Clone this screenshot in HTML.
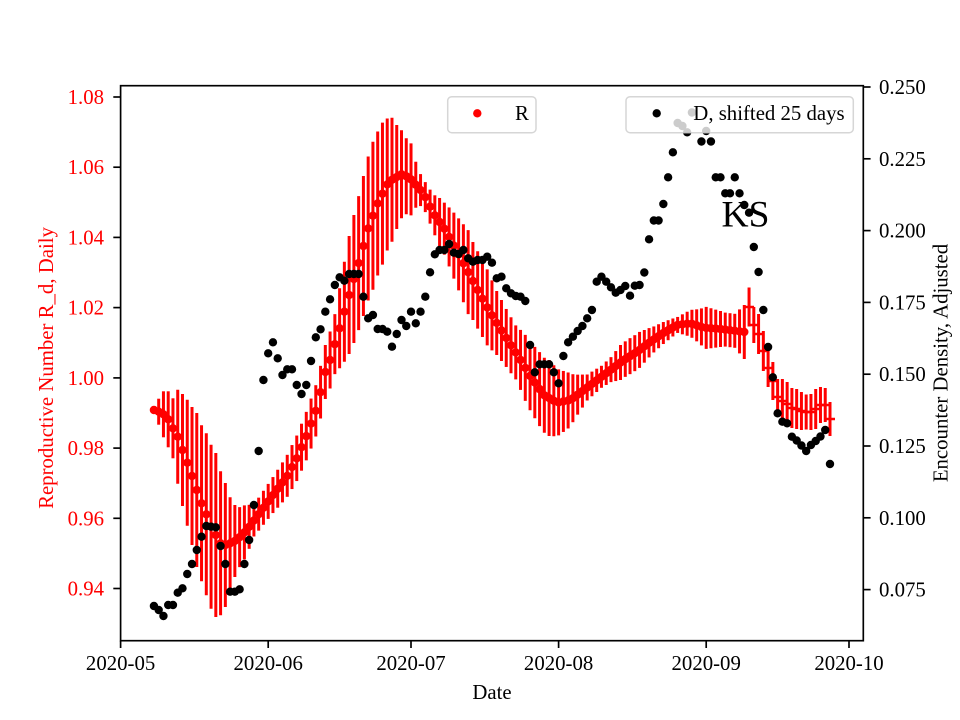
<!DOCTYPE html>
<html>
<head>
<meta charset="utf-8">
<style>
html,body{margin:0;padding:0;background:#fff;}
svg{display:block;}
</style>
</head>
<body>
<svg id="chart" width="960" height="720" viewBox="0 0 960 720" xmlns="http://www.w3.org/2000/svg" font-family="'Liberation Serif', 'DejaVu Serif', serif">
<rect x="0" y="0" width="960" height="720" fill="#ffffff"/>
<g id="red"></g>
<g id="blk"></g>

<!-- Legend R -->
<rect x="447.7" y="96.7" width="88.3" height="36" rx="4" ry="4" fill="#ffffff" fill-opacity="0.8" stroke="#cccccc" stroke-opacity="0.8" stroke-width="1.5"/>
<circle cx="477.3" cy="113.3" r="4.2" fill="#ff0000"/>
<text x="515" y="120" font-size="20.8" fill="#000">R</text>

<!-- Legend D -->
<rect x="626" y="96.7" width="227.3" height="36" rx="4" ry="4" fill="#ffffff" fill-opacity="0.8" stroke="#cccccc" stroke-opacity="0.8" stroke-width="1.5"/>
<circle cx="656.7" cy="113.3" r="4.2" fill="#000000"/>
<text x="693.3" y="120" font-size="20.8" fill="#000">D, shifted 25 days</text>

<!-- KS label -->
<text x="721.5" y="226.7" font-size="37.5" fill="#000">KS</text>

<!-- Spines -->
<g stroke="#000" stroke-width="1.67" fill="none">
  <rect x="120.6" y="85.7" width="742.7" height="555"/>
</g>

<!-- Bottom ticks -->
<g stroke="#000" stroke-width="1.67">
  <line x1="120.6" y1="640.7" x2="120.6" y2="648"/>
  <line x1="268.2" y1="640.7" x2="268.2" y2="648"/>
  <line x1="411" y1="640.7" x2="411" y2="648"/>
  <line x1="558.6" y1="640.7" x2="558.6" y2="648"/>
  <line x1="706.2" y1="640.7" x2="706.2" y2="648"/>
  <line x1="849" y1="640.7" x2="849" y2="648"/>
</g>
<g font-size="20.8" fill="#000" text-anchor="middle">
  <text x="120.6" y="670">2020-05</text>
  <text x="268.2" y="670">2020-06</text>
  <text x="411" y="670">2020-07</text>
  <text x="558.6" y="670">2020-08</text>
  <text x="706.2" y="670">2020-09</text>
  <text x="849" y="670">2020-10</text>
  <text x="492" y="699">Date</text>
</g>

<!-- Left ticks -->
<g stroke="#000" stroke-width="1.67">
  <line x1="113.3" y1="97" x2="120.6" y2="97"/>
  <line x1="113.3" y1="167.2" x2="120.6" y2="167.2"/>
  <line x1="113.3" y1="237.4" x2="120.6" y2="237.4"/>
  <line x1="113.3" y1="307.6" x2="120.6" y2="307.6"/>
  <line x1="113.3" y1="377.9" x2="120.6" y2="377.9"/>
  <line x1="113.3" y1="448.1" x2="120.6" y2="448.1"/>
  <line x1="113.3" y1="518.3" x2="120.6" y2="518.3"/>
  <line x1="113.3" y1="588.5" x2="120.6" y2="588.5"/>
</g>
<g font-size="20.8" fill="#ff0000" text-anchor="end">
  <text x="104" y="104">1.08</text>
  <text x="104" y="174.2">1.06</text>
  <text x="104" y="244.4">1.04</text>
  <text x="104" y="314.6">1.02</text>
  <text x="104" y="384.9">1.00</text>
  <text x="104" y="455.1">0.98</text>
  <text x="104" y="525.3">0.96</text>
  <text x="104" y="595.5">0.94</text>
</g>
<text transform="translate(53,368) rotate(-90)" text-anchor="middle" font-size="20.8" fill="#ff0000">Reproductive Number R_d, Daily</text>

<!-- Right ticks -->
<g stroke="#000" stroke-width="1.67">
  <line x1="863.3" y1="87" x2="870.6" y2="87"/>
  <line x1="863.3" y1="158.8" x2="870.6" y2="158.8"/>
  <line x1="863.3" y1="230.6" x2="870.6" y2="230.6"/>
  <line x1="863.3" y1="302.4" x2="870.6" y2="302.4"/>
  <line x1="863.3" y1="374.2" x2="870.6" y2="374.2"/>
  <line x1="863.3" y1="446" x2="870.6" y2="446"/>
  <line x1="863.3" y1="517.8" x2="870.6" y2="517.8"/>
  <line x1="863.3" y1="589.6" x2="870.6" y2="589.6"/>
</g>
<g font-size="20.8" fill="#000" text-anchor="start">
  <text x="879" y="94">0.250</text>
  <text x="879" y="165.8">0.225</text>
  <text x="879" y="237.6">0.200</text>
  <text x="879" y="309.4">0.175</text>
  <text x="879" y="381.2">0.150</text>
  <text x="879" y="453">0.125</text>
  <text x="879" y="524.8">0.100</text>
  <text x="879" y="596.6">0.075</text>
</g>
<text transform="translate(947.5,363) rotate(-90)" text-anchor="middle" font-size="20.8" fill="#000">Encounter Density, Adjusted</text>
</svg>

<script>
(function(){
  function X(d){return 120.6+4.761*d;}
  function interp(arr,d){
    if(d<=arr[0][0]) return arr[0][1];
    for(var i=1;i<arr.length;i++){
      if(d<=arr[i][0]){
        var a=arr[i-1],b=arr[i];
        var t=(d-a[0])/(b[0]-a[0]);
        return a[1]+t*(b[1]-a[1]);
      }
    }
    return arr[arr.length-1][1];
  }
  var rc=[[7,410],[8,411.7],[9,414.3],[10,419.3],[11,428.3],[12,436.7],[13,450],[14,462.7],[15,476],[16,490],[17,503.3],[18,514.3],[19,526.7],[20,535],[21,543.3],[22,545],[23,543.3],[24.4,540],[26.5,530],[28.6,516.7],[30.7,503.3],[32.8,490],[34.9,476.7],[37,458.3],[39.1,435],[41.2,408.3],[43,372],[44,360],[46.1,326.7],[48.2,291.7],[50.3,258.3],[52.1,226.7],[54.2,201],[56.3,181.7],[59.1,174],[60.8,178.3],[63.6,193.3],[65.7,213.3],[68.2,230],[70.7,251.7],[73.1,273],[75.2,291.7],[77.3,310],[79.4,326],[81.5,341.7],[83.6,356.7],[86.1,376.7],[88.9,395],[91.7,402.7],[94.5,400],[97.3,390],[100.1,380],[102.9,370],[105.7,360],[108.5,351.7],[111.3,341.7],[114.1,332.7],[116.9,325],[119.7,323.3],[122.5,327.7],[126,329],[131,332],[132,307],[133,325],[134,334],[135,351],[136,368],[137,381],[138,397],[139,401],[140,404],[141,408],[142,409],[143,411],[144,412],[145,412],[146,409],[147,405],[148,405],[149,419]];
  var rh=[[7,0],[8,13],[9,23],[10,28],[11,30],[12,47],[13,56],[14,63],[15,69],[16,77],[17,78],[18,81],[19,82],[20,82],[21,72],[22,62],[23,46],[24,36],[25,30],[26,27],[27,22],[28,16],[32,18],[36,22],[40,25],[43,27],[45,30],[46,40],[47,50],[48,59],[49,64],[50,67],[51,70],[52,72],[53,74],[54,72],[55,71],[56,66],[57,62],[58,52],[59,44],[60,38],[61,36],[62,23],[63,16],[64,15],[65,17],[66,20],[67,24],[68,26],[70,33],[73,42],[74,39],[77,38],[79,32],[81,29],[83,27],[85,33],[88,37],[90,38],[92,33],[94,28],[96,20],[98,13],[101,11],[103,12.5],[105,17.5],[107,18],[109,18],[112,13],[117,8],[119,12],[121,16],[123,21],[125,19],[127,17],[129,17],[131,27],[132,19.5],[133,18],[134,20],[135,20],[136,19],[137,19],[138,18],[139,22],[140,22],[141,20],[142,20],[143,19],[144,17.5],[145,18],[146,20],[147,18],[148,17],[149,17]];
  var by={7:606,8:610,9:616,10:605,11:605,12:592.7,13:588.3,14:574,15:564,16:550,17:536.7,18:526,19:526.7,20:527.3,21:546,22:564,23:591.7,24:591.7,25:589.3,26:564,27:540,28:505,29:451,30:380,31:353.3,32:342.3,33:358.3,34:375,35:369.3,36:369.3,37:385,38:394,39:385,40:361,41:337.3,42:329.3,43:311.7,44:299.3,45:285,46:277.3,47:280.7,48:274,49:274,50:274,51:296.7,52:318.3,53:315,54:329,55:329,56:331.7,57:346.7,58:334,59:320,60:326,61:311.7,62:323.3,63:311.7,64:296.7,65:272.3,66:254.3,67:250,68:250,69:244,70:252.7,71:254,72:250,73:258.3,74:261.7,75:260,76:260,77:256.7,78:262.7,79:278.3,80:276.7,81:288.3,82:293.3,83:296,84:296.7,85:301,86:345,87:372.3,88:364.3,89:364.3,90:364.3,91:372.3,92:383.3,93:356,94:342.3,95:336.7,96:331,97:326,98:318.3,99:310,100:281.7,101:276.7,102:281.7,103:287.3,104:292.7,105:290,106:286,107:295.7,108:285.7,109:285,110:272.5,111:239.3,112:220.5,113:220.5,114:204,115:177.3,116:152.3,117:123,118:126,119:132.3,120:112.5,122:141.5,123:131,124:141.5,125:177.3,126:177.3,127:193.3,128:193.3,129:177.3,130:193.3,131:205,132:212.7,133:247,134:272,135:310,136:347,137:377.3,138:413.3,139:421.7,140:423.3,141:436.7,142:440.5,143:445.5,144:451,145:445,146:441,147:436.5,148:430,149:464};

  var bars='', marks='';
  for(var d=7; d<=149; d++){
    var x=X(d), c=interp(rc,d), h=interp(rh,d);
    if(h>0.5){
      bars+='<line x1="'+x.toFixed(2)+'" y1="'+(c-h).toFixed(2)+'" x2="'+x.toFixed(2)+'" y2="'+(c+h).toFixed(2)+'"/>';
    }
    if(d<=131){
      marks+='<circle cx="'+x.toFixed(2)+'" cy="'+c.toFixed(2)+'" r="4.2" fill="#ff0000"/>';
    } else {
      marks+='<line x1="'+(x-5).toFixed(2)+'" y1="'+c.toFixed(2)+'" x2="'+(x+5).toFixed(2)+'" y2="'+c.toFixed(2)+'" stroke="#ff0000" stroke-width="2.5"/>';
    }
  }
  document.getElementById('red').innerHTML='<g stroke="#ff0000" stroke-width="3">'+bars+'</g>'+marks;

  var b='';
  for(var k=7;k<=149;k++){
    if(by[k]===undefined) continue;
    b+='<circle cx="'+X(k).toFixed(2)+'" cy="'+by[k]+'" r="4.2" fill="#000000"/>';
  }
  document.getElementById('blk').innerHTML=b;
})();
</script>
</body>
</html>
